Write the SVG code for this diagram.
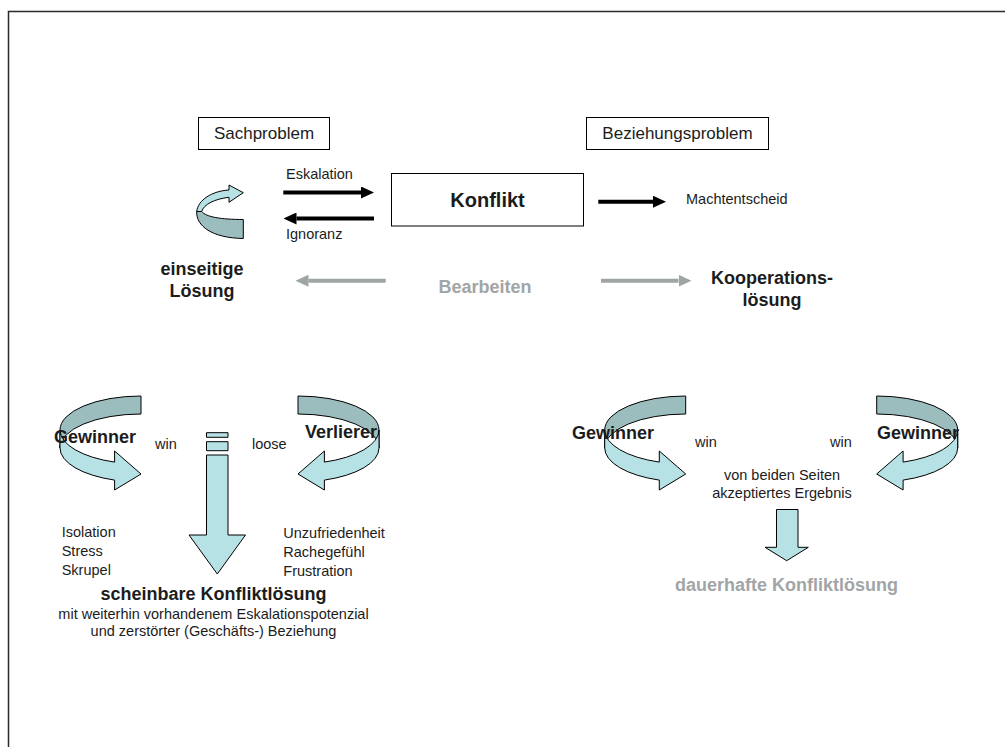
<svg xmlns="http://www.w3.org/2000/svg" width="1005" height="747" viewBox="0 0 1005 747">
  <style>
    text { font-family: "Liberation Sans", Arial, sans-serif; fill: #1c1c1c; }
    .s { font-size: 14.5px; }
    .m { font-size: 17px; }
    .b { font-size: 18px; font-weight: bold; }
    .g { fill: #a2a5a5; }
    .c { text-anchor: middle; }
    .box { fill: #fff; stroke: #000; stroke-width: 1; }
    .blk { stroke: #000; stroke-width: 4; fill: none; }
    .gry { stroke: #9ea5a5; stroke-width: 4; fill: none; }
    .back { fill: #9bbdbe; stroke: #000; stroke-width: 1; stroke-linejoin: round; }
    .front { fill: #b6e1e5; stroke: #000; stroke-width: 1; stroke-linejoin: round; }
  </style>
  <defs>
    <marker id="headBlack" viewBox="0 0 13 12" refX="0" refY="6" markerWidth="13" markerHeight="12" markerUnits="userSpaceOnUse" orient="auto">
      <path d="M0,0 L13,6 L0,12 Z" fill="#000"/>
    </marker>
    <marker id="headGray" viewBox="0 0 13 12" refX="0" refY="6" markerWidth="13" markerHeight="12" markerUnits="userSpaceOnUse" orient="auto">
      <path d="M0,0 L13,6 L0,12 Z" fill="#9ea5a5"/>
    </marker>
    <!-- curved ribbon arrow turning left and back right -->
    <g id="ribbon">
      <path class="back" d="M141,396 A81,34 0 0 0 60,430 L60,448 A81,34 0 0 1 141,414 Z"/>
      <path class="front" d="M60,430 A81,34 0 0 0 114.6,462.1 L114.6,451 L141,474 L114.6,490 L114.6,480.1 A81,34 0 0 1 60,448 Z"/>
    </g>
  </defs>

  <!-- page frame -->
  <rect x="8.5" y="11.5" width="1100" height="800" fill="none" stroke="#2a2a2a" stroke-width="1.5"/>

  <!-- top row -->
  <g id="sachproblem">
    <rect class="box" x="198.5" y="117.5" width="131" height="32"/>
    <text class="m c" x="264" y="139">Sachproblem</text>
  </g>
  <g id="beziehungsproblem">
    <rect class="box" x="586.5" y="117.5" width="182" height="32"/>
    <text class="m c" x="677.5" y="139">Beziehungsproblem</text>
  </g>
  <g id="konflikt">
    <rect class="box" x="391.5" y="173.5" width="192" height="52.5"/>
    <text class="c" x="487.5" y="207" style="font-size:20px;font-weight:bold">Konflikt</text>
  </g>
  <g id="kreislauf">
    <path class="back" d="M196.7,211.5 C196,226 212,238 243.3,238.5 L243.3,219.5 C221,219.5 206,217 201.7,211.5 Z"/>
    <path class="front" d="M196.7,211.5 C198,200 212,191 229,190 L229,185 L243.3,192.7 L229,202.3 L229,197.3 C215,199 204,204 201.7,211.5 Z"/>
  </g>
  <g id="machtentscheid">
    <text class="s" x="686" y="204">Machtentscheid</text>
  </g>
  <g id="einseitig">
    <text class="b c" x="202" y="275">einseitige</text>
    <text class="b c" x="202" y="297">Lösung</text>
  </g>
  <g id="bearbeiten">
    <text class="b c g" x="485" y="293">Bearbeiten</text>
  </g>
  <g id="kooperation">
    <text class="b c" x="772" y="284">Kooperations-</text>
    <text class="b c" x="772" y="306">lösung</text>
  </g>

  <!-- connectors -->
  <g id="connectors">
    <line class="blk" x1="283.3" y1="192.5" x2="361" y2="192.5" marker-end="url(#headBlack)"/>
    <text class="s" x="286" y="178.5">Eskalation</text>
    <line class="blk" x1="374" y1="218.5" x2="296.5" y2="218.5" marker-end="url(#headBlack)"/>
    <text class="s" x="286" y="238.5">Ignoranz</text>
    <line class="blk" x1="598.3" y1="201.7" x2="653" y2="201.7" marker-end="url(#headBlack)"/>
    <line class="gry" x1="385.7" y1="280.7" x2="308.5" y2="280.7" marker-end="url(#headGray)"/>
    <line class="gry" x1="601" y1="280.7" x2="678.5" y2="280.7" marker-end="url(#headGray)"/>
  </g>

  <!-- left scenario: one-sided solution -->
  <g id="gewinner-links">
    <use href="#ribbon"/>
    <text class="b" x="54" y="443">Gewinner</text>
    <text class="s" x="155" y="449">win</text>
  </g>
  <g id="verlierer">
    <use href="#ribbon" transform="translate(439,0) scale(-1,1)"/>
    <text class="b" x="305" y="438">Verlierer</text>
    <text class="s" x="252" y="449">loose</text>
  </g>
  <g id="abwaerts-links">
    <rect class="front" x="206.5" y="432.7" width="21.5" height="4.6"/>
    <rect class="front" x="206.5" y="441.7" width="21.5" height="9"/>
    <path class="front" d="M206.5,455 L228,455 L228,535 L245.5,535 L217.3,574 L189,535 L206.5,535 Z"/>
  </g>
  <g id="folgen-gewinner">
    <text class="s" x="61.7" y="537">Isolation</text>
    <text class="s" x="61.7" y="556">Stress</text>
    <text class="s" x="61.7" y="575">Skrupel</text>
  </g>
  <g id="folgen-verlierer">
    <text class="s" x="283.3" y="538">Unzufriedenheit</text>
    <text class="s" x="283.3" y="557">Rachegefühl</text>
    <text class="s" x="283.3" y="576">Frustration</text>
  </g>
  <g id="scheinbare-loesung">
    <text class="b c" x="213.5" y="600">scheinbare Konfliktlösung</text>
    <text class="s c" x="213.5" y="618.5">mit weiterhin vorhandenem Eskalationspotenzial</text>
    <text class="s c" x="213.5" y="635.5">und zerstörter (Geschäfts-) Beziehung</text>
  </g>

  <!-- right scenario: cooperative solution -->
  <g id="gewinner-a">
    <use href="#ribbon" transform="translate(544.7,0)"/>
    <text class="b" x="572" y="439">Gewinner</text>
    <text class="s" x="695" y="447">win</text>
  </g>
  <g id="gewinner-b">
    <use href="#ribbon" transform="translate(1017.7,0) scale(-1,1)"/>
    <text class="b" x="877" y="439">Gewinner</text>
    <text class="s" x="830" y="447">win</text>
  </g>
  <g id="ergebnis">
    <text class="s c" x="782" y="480">von beiden Seiten</text>
    <text class="s c" x="782" y="497.5">akzeptiertes Ergebnis</text>
  </g>
  <g id="abwaerts-rechts">
    <path class="front" d="M776.5,509.5 L798,509.5 L798,547.3 L808.3,547.3 L786.7,560.7 L765,547.3 L776.5,547.3 Z"/>
  </g>
  <g id="dauerhafte-loesung">
    <text class="b c g" x="786.5" y="591">dauerhafte Konfliktlösung</text>
  </g>
</svg>
